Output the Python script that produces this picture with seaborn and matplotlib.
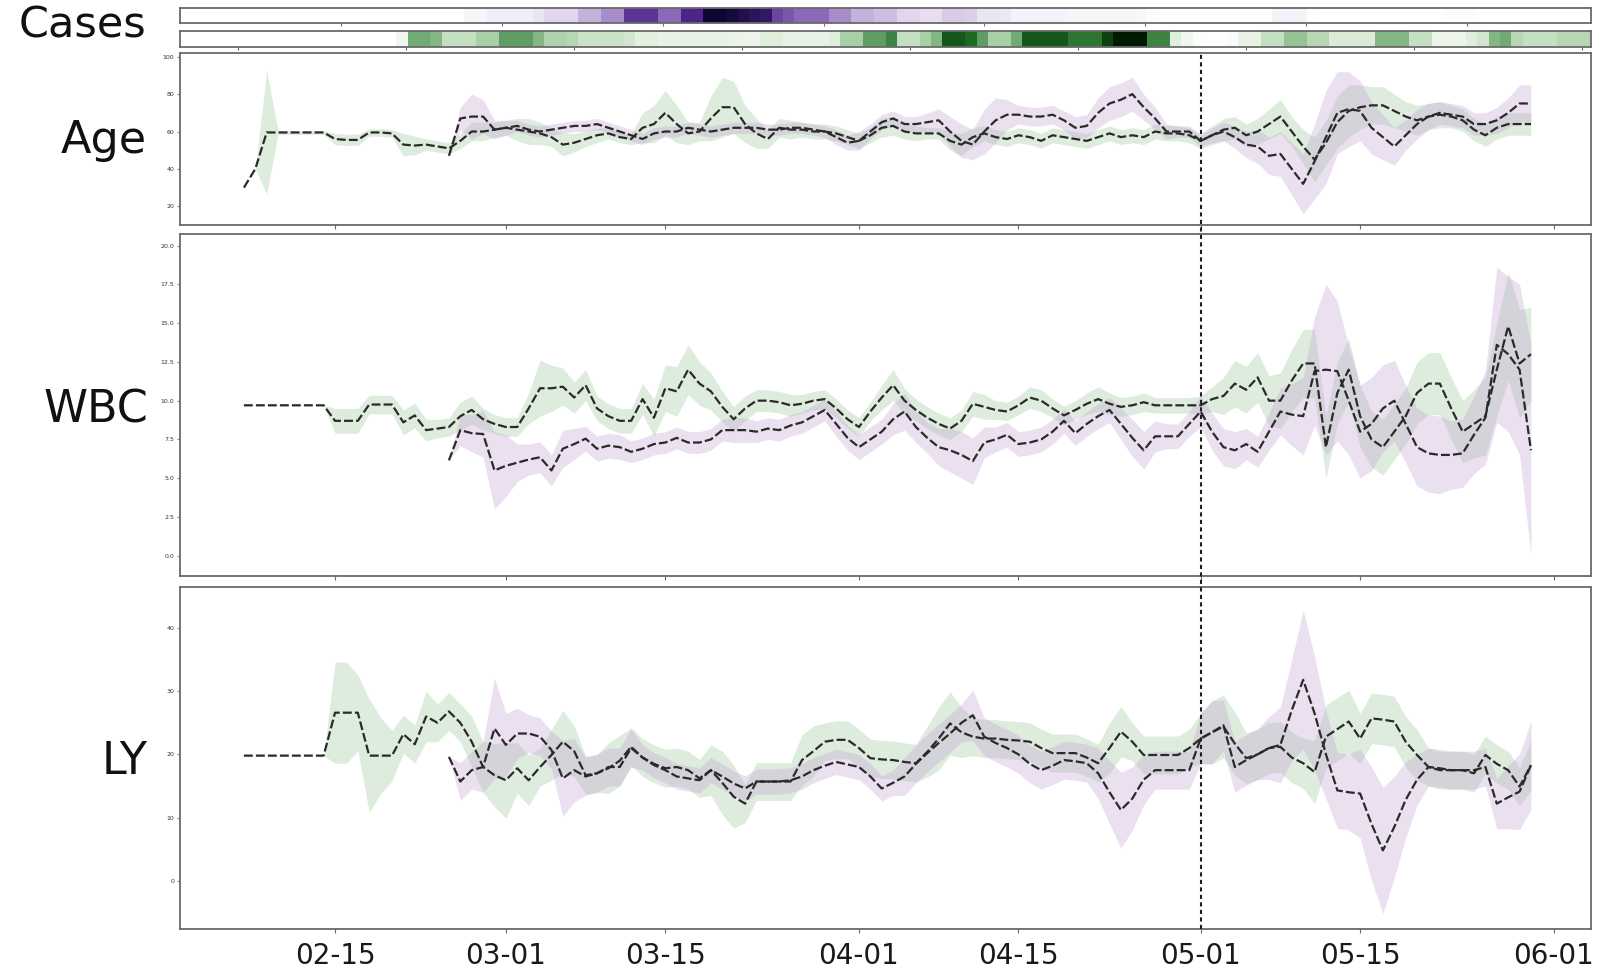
import numpy as np
import pandas as pd
import matplotlib
matplotlib.use("Agg")
import matplotlib.pyplot as plt
import matplotlib.dates as mdates
from matplotlib.colors import LinearSegmentedColormap
import seaborn as sns

sns.set_style("white")
plt.rcParams['font.family'] = ['DejaVu Sans']

# ---------------- data ----------------
green_start, green_end = "2020-02-07", "2020-05-30"
purple_start, purple_end = "2020-02-25", "2020-05-30"

cases_purple = [0]*25 + [
    .08, .08, .13, .13, .13, .13, .2, .25, .25, .25, .4, .4, .5, .5, .75, .75, .75, .6, .6, .8,
    .8, 1.0, 1.0, .97, .93, .9, .88, .7, .65, .6, .6, .6, .5, .5, .4, .4, .35, .35, .25, .25,
    .22, .22, .3, .3, .28, .2, .2, .18, .1, .1, .1, .1, .1, .08, .08, .08, .08, .08, .08, .07,
    .03] + [.005]*10 + [.1, .1, .1, .005] + [0]*11 + [.02, .02, .02] + [0]*10

cases_green = [0]*19 + [
    .1, .55, .55, .5, .3, .3, .3, .4, .4, .6, .6, .6, .5, .38, .38, .35, .28, .28, .28, .28,
    .25, .18, .18, .15, .15, .15, .15, .15, .15, .14, .12, .12, .2, .2, .15, .15, .15, .15, .2, .4,
    .4, .6, .6, .7, .3, .3, .4, .5, .85, .85, .8, .6, .4, .4, .55, .85, .85, .85, .85, .75,
    .75, .75, .9, 1.0, 1.0, 1.0, .7, .7, .2, .1, .03, .02, .02, .05, .15, .15, .3, .3, .45, .45,
    .35, .35, .22, .22, .22, .22, .5, .5, .5, .3, .3, .12, .12, .12, .2, .25, .5, .55, .35, .3,
    .3, .3, .35, .35, .35]

age_green = [
    30, 40, 59.5, 59.5, 59.5, 59.5, 59.5, 59.5, 56, 55.5, 55.5, 59.5, 59.5, 59, 53, 52.5, 53, 52, 51, 55, 60, 60, 61,
    62, 61, 60, 59, 57, 53, 54, 56, 58, 59, 57, 56, 62, 64, 70, 64, 59, 60, 67, 73, 73, 64, 59, 56, 62, 61, 61, 60, 60, 59, 57,
    55, 58, 62, 63, 60, 59, 59, 59, 55, 53, 57, 59, 57, 56, 58, 57, 55, 58, 57, 56, 55, 57, 59, 57, 58, 57, 60, 59, 59, 58,
    55, 58, 61, 62, 58, 60, 64, 68, 60, 52, 45, 54, 65, 71, 73, 74, 74, 71, 68, 66, 68, 69, 68, 66, 61, 58, 62, 64, 64, 64]
age_green_err = [
    0, 0, 33, 1, 1, 1, 1, 1, 3, 3, 3, 2, 2, 2, 6, 5, 3, 3, 3, 4, 5, 5, 4,
    4, 6, 7, 6, 5, 6, 5, 4, 4, 3, 3, 3, 8, 10, 12, 10, 6, 5, 12, 16, 14, 10, 8, 5, 5, 5, 4, 4, 4, 4, 4,
    4, 4, 5, 5, 4, 4, 3, 3, 5, 6, 5, 4, 4, 4, 4, 4, 4, 4, 4, 4, 4, 4, 4, 4, 4, 4, 4, 4, 4, 4,
    4, 5, 6, 6, 6, 7, 8, 9, 8, 9, 12, 12, 14, 14, 12, 10, 10, 9, 8, 8, 7, 7, 6, 6, 6, 6, 6, 6, 6, 6]
age_purple = [
    47, 67, 68, 68, 61,
    62, 63, 61, 60, 61, 62, 63, 63, 64, 62, 60, 58, 56, 59, 60, 60, 62, 61, 60, 61, 62, 62, 62, 61, 61, 62, 62, 61, 60, 57, 54,
    55, 60, 65, 67, 64, 64, 65, 66, 60, 55, 53, 60, 66, 69, 69, 68, 68, 69, 66, 62, 63, 70, 75, 77, 80, 73, 67, 60, 60, 60,
    55, 58, 60, 57, 53, 52, 47, 48, 40, 32, 44, 57, 70, 72, 71, 62, 57, 52, 58, 64, 68, 70, 69, 68, 64, 64, 66, 70, 75, 75]
age_purple_err = [
    0, 6, 12, 9, 5,
    4, 3, 3, 3, 3, 3, 3, 3, 3, 3, 3, 3, 3, 3, 3, 3, 3, 3, 3, 3, 3, 3, 3, 3, 3, 3, 3, 3, 3, 4, 4,
    5, 4, 4, 4, 4, 4, 5, 6, 8, 9, 8, 12, 12, 8, 5, 5, 5, 5, 5, 6, 6, 8, 9, 9, 9, 7, 6, 4, 3, 3,
    3, 4, 5, 6, 7, 9, 10, 12, 14, 16, 20, 25, 22, 20, 16, 14, 12, 10, 8, 8, 7, 6, 6, 6, 6, 6, 7, 8, 10, 10]

wbc_green = [
    9.7, 9.7, 9.7, 9.7, 9.7, 9.7, 9.7, 9.7, 8.7, 8.7, 8.7, 9.75, 9.75, 9.75, 8.6, 9.05, 8.1, 8.2, 8.3, 9.0, 9.4, 8.8, 8.5,
    8.3, 8.3, 9.5, 10.8, 10.8, 10.9, 10.2, 11.0, 9.5, 9.0, 8.7, 8.7, 10.1, 8.9, 10.8, 10.6, 12.0, 11.1, 10.6, 9.6,
    8.8, 9.5, 10.0, 10.0, 9.9, 9.7, 9.8, 10.0, 10.1, 9.5, 8.8,
    8.3, 9.3, 10.2, 11.0, 10.0, 9.4, 8.9, 8.5, 8.2, 8.7, 9.8, 9.6, 9.4, 9.3, 9.7, 10.2, 10.0, 9.5, 9.05, 9.4,
    9.8, 10.1, 9.8, 9.6, 9.7, 9.9, 9.7, 9.7, 9.7, 9.7,
    9.7, 10.1, 10.3, 11.1, 10.7, 11.5, 10.0, 10.0, 11.3, 12.4, 12.4, 7.0, 10.5, 12.0, 9.0, 7.5, 7.0, 8.0, 9.0, 10.5,
    11.1, 11.1, 9.5, 8.0, 8.5, 9.0, 12.0, 14.8, 12.4, 13.0]
wbc_green_err = [
    0, 0, 0, 0, 0, 0, 0, 0, 0.8, 0.8, 0.8, 0.6, 0.6, 0.6, 0.8, 0.8, 0.7, 0.6, 0.6, 0.9, 0.9, 0.7, 0.6,
    0.6, 0.6, 1.0, 1.8, 1.5, 1.2, 1.0, 1.0, 0.8, 0.8, 0.8, 0.8, 1.0, 1.2, 1.5, 1.6, 1.6, 1.4, 1.2, 1.0,
    0.8, 0.8, 0.7, 0.7, 0.7, 0.7, 0.6, 0.6, 0.6, 0.6, 0.6,
    0.6, 0.6, 0.8, 1.0, 0.8, 0.7, 0.7, 0.7, 0.7, 0.7, 0.8, 0.8, 0.6, 0.6, 0.6, 0.7, 0.7, 0.6, 0.6, 0.6,
    0.7, 0.8, 0.7, 0.6, 0.6, 0.6, 0.5, 0.5, 0.5, 0.5,
    0.6, 0.8, 1.2, 1.5, 1.5, 1.6, 1.6, 1.8, 2.0, 2.2, 2.2, 2.0, 2.0, 2.0, 2.0, 1.8, 1.8, 1.8, 1.8, 2.0,
    2.0, 2.0, 2.0, 2.0, 2.2, 2.5, 3.0, 3.5, 3.5, 3.0]
wbc_purple = [
    6.15, 8.1, 7.9, 7.85, 5.5,
    5.8, 6.0, 6.2, 6.35, 5.5, 6.9, 7.2, 7.55, 6.9, 7.1, 7.0, 6.7, 6.9, 7.2, 7.3, 7.6, 7.3, 7.3, 7.5, 8.1,
    8.1, 8.1, 8.0, 8.2, 8.1, 8.4, 8.6, 9.0, 9.4, 8.5, 7.6,
    7.0, 7.5, 8.0, 8.8, 9.3, 8.3, 7.6, 7.0, 6.8, 6.5, 6.1, 7.3, 7.5, 7.8, 7.2, 7.3, 7.5, 8.0, 8.7, 7.9,
    8.5, 9.0, 9.4, 8.5, 7.6, 6.8, 7.7, 7.7, 7.7, 8.5,
    9.3, 8.0, 7.0, 6.8, 7.2, 6.7, 8.0, 9.3, 9.1, 9.0, 11.9, 12.0, 11.9, 10.0, 8.0, 8.5, 9.5, 10.0, 8.5, 7.0,
    6.6, 6.5, 6.5, 6.6, 7.8, 8.9, 13.6, 13.0, 12.0, 6.8]
wbc_purple_err = [
    0, 1.0, 1.2, 1.5, 2.5,
    2.0, 1.2, 1.0, 1.0, 1.0, 1.2, 1.0, 0.8, 0.8, 0.8, 0.8, 0.7, 0.7, 0.7, 0.7, 0.7, 0.7, 0.7, 0.7, 0.7,
    0.8, 0.8, 0.7, 0.7, 0.7, 0.7, 0.7, 0.7, 0.7, 0.8, 0.8,
    0.8, 0.8, 0.8, 1.0, 1.2, 1.0, 1.0, 1.2, 1.4, 1.5, 1.5, 1.0, 0.8, 0.8, 0.8, 0.8, 0.8, 0.8, 0.8, 0.8,
    0.8, 0.8, 0.8, 1.0, 1.2, 1.2, 1.0, 0.8, 0.8, 0.8,
    1.0, 1.2, 1.2, 1.2, 1.0, 1.0, 1.2, 1.5, 2.0, 2.5, 3.5, 5.5, 4.5, 3.5, 3.0, 3.0, 2.8, 2.6, 2.5, 2.5,
    2.5, 2.5, 2.2, 2.2, 2.5, 3.0, 5.0, 5.0, 5.5, 6.8]

ly_green = [
    19.8, 19.8, 19.8, 19.8, 19.8, 19.8, 19.8, 19.8, 26.6, 26.6, 26.6, 19.8, 19.8, 19.8, 23.2, 21.6, 26.0, 25.0, 26.8,
    25.0, 22.0, 18.0, 16.7,
    15.9, 17.8, 15.9, 18.0, 19.9, 22.0, 20.5, 16.7, 17.0, 17.8, 19.0, 21.2, 19.5, 18.5, 17.8, 18.0, 17.5, 16.2, 17.5,
    15.5, 13.3, 12.2, 15.7, 15.7, 15.7, 15.7, 19.1, 20.5, 22.0, 22.3, 22.3,
    21.0, 19.4, 19.2, 19.1, 18.8, 18.6, 20.4, 22.5, 24.9, 23.5, 22.8, 22.5, 22.5, 22.3, 22.2, 22.0, 21.0, 20.2, 20.2,
    20.2, 19.5, 18.6, 21.0, 23.6, 22.0, 19.9, 19.9, 19.9, 19.9, 21.0,
    22.5, 23.5, 24.4, 21.7, 19.4, 20.0, 21.0, 21.2, 19.5, 18.6, 17.2, 22.8, 24.0, 25.2, 22.5, 25.7, 25.5, 25.2, 22.0,
    19.9, 18.0, 17.5, 17.5, 17.5, 17.0, 19.9, 18.5, 17.5, 14.9, 18.3]
ly_green_err = [
    0, 0, 0, 0, 0, 0, 0, 0, 8, 8, 6, 9, 6, 4, 3, 3, 4, 3, 3, 3, 4, 4, 5,
    6, 4, 4, 3, 4, 5, 4, 3, 3, 4, 4, 3, 3, 3, 3, 3, 3, 3, 4, 5, 5, 3, 3, 3, 3, 3, 4, 4, 3, 3, 3,
    3, 3, 3, 3, 3, 3, 4, 5, 5, 4, 3, 3, 3, 3, 3, 3, 3, 3, 3, 3, 3, 3, 4, 4, 3, 3, 3, 3, 3, 3,
    4, 5, 5, 5, 4, 4, 4, 4, 4, 4, 5, 5, 5, 5, 4, 4, 4, 4, 4, 4, 3, 3, 3, 3, 3, 3, 3, 3, 3, 4]
ly_purple = [
    19.6, 15.7, 17.5, 18.0, 24.1,
    21.5, 23.3, 23.3, 22.8, 20.7, 16.2, 17.5, 16.5, 17.0, 18.0, 18.0, 21.0, 19.5, 18.3, 17.5, 16.5, 16.2, 15.9, 17.5,
    16.5, 15.4, 14.6, 15.7, 15.7, 15.7, 15.9, 16.5, 17.5, 18.2, 18.8, 18.4,
    18.0, 16.5, 14.6, 15.5, 16.5, 18.5, 20.2, 21.8, 23.3, 25.0, 26.2, 22.8, 21.8, 21.0, 20.0, 18.5, 17.5, 18.2, 19.1,
    18.9, 18.6, 17.0, 14.0, 11.2, 13.0, 16.0, 17.5, 17.5, 17.5, 17.5,
    22.5, 23.5, 24.6, 18.0, 19.1, 20.0, 21.0, 21.5, 27.0, 31.8, 26.5, 20.0, 14.3, 14.0, 13.8, 9.0, 4.8, 8.5, 12.8,
    16.0, 18.0, 17.8, 17.5, 17.5, 17.5, 18.0, 12.2, 13.2, 14.1, 18.3]
ly_purple_err = [
    0, 3, 3, 4, 8,
    5, 4, 3, 3, 3, 6, 5, 3, 3, 3, 3, 3, 2, 2, 2, 2, 2, 2, 2, 2, 2, 2, 2, 2, 2, 2, 2, 2, 2, 2, 2,
    2, 2, 2, 2, 3, 3, 3, 3, 3, 3, 4, 3, 3, 3, 3, 3, 3, 3, 3, 3, 3, 4, 5, 6, 5, 4, 3, 3, 3, 3,
    4, 5, 4, 4, 4, 4, 5, 6, 8, 11, 9, 7, 6, 6, 7, 9, 10, 8, 6, 4, 3, 3, 3, 3, 3, 3, 4, 5, 6, 7]

panel_names = ["Age", "WBC", "LY"]
y_ticks = [[20, 40, 60, 80, 100], [0.0, 2.5, 5.0, 7.5, 10.0, 12.5, 15.0, 17.5, 20.0], [0, 10, 20, 30, 40]]
x_tick_dates = ["2020-02-15", "2020-03-01", "2020-03-15", "2020-04-01", "2020-04-15",
                "2020-05-01", "2020-05-15", "2020-06-01"]
marker_date = "2020-05-01"

# ---------------- figure ----------------
W, H = 1601, 973
fig = plt.figure(figsize=(W / 100, H / 100), dpi=100)

def fbox(top, bottom, left=180, right=1591):
    return [left / W, 1 - bottom / H, (right - left) / W, (bottom - top) / H]

ax_p = fig.add_axes(fbox(8, 23))
ax_g = fig.add_axes(fbox(31, 47))
ax_age = fig.add_axes(fbox(53, 225))
ax_wbc = fig.add_axes(fbox(234, 576))
ax_ly = fig.add_axes(fbox(587, 929))

spine_col = "#6a6a6a"

cmap_p = LinearSegmentedColormap.from_list(
    "pur", ["#ffffff", "#ebe4f2", "#c3b2dc", "#8a69b8", "#4d2388", "#0c0630"])
cmap_g = LinearSegmentedColormap.from_list(
    "grn", ["#ffffff", "#e0eedc", "#a9cfa6", "#5f9d63", "#1c6a22", "#001a02"])

for ax, vals, cmap, tpos in [
        (ax_p, cases_purple, cmap_p, [14.14 * k for k in range(1, 9)]),
        (ax_g, cases_green, cmap_g, [5.1 + 14.76 * k for k in range(9)])]:
    sns.heatmap(np.array([vals]), ax=ax, cmap=cmap, vmin=0, vmax=1, cbar=False,
                xticklabels=False, yticklabels=False)
    for s in ax.spines.values():
        s.set_visible(True)
        s.set_color(spine_col)
        s.set_linewidth(1.3)
    ax.set_xticks(tpos)
    ax.set_yticks([])
    ax.tick_params(axis="x", bottom=True, length=2.5, width=0.8, color=spine_col, labelbottom=False)

xlim = (pd.Timestamp("2020-02-01 09:20"), pd.Timestamp("2020-06-04 06:30"))
ylims = [(10, 102), (-1.31, 20.75), (-7.65, 46.5)]

series = [
    (age_green, age_green_err, age_purple, age_purple_err),
    (wbc_green, wbc_green_err, wbc_purple, wbc_purple_err),
    (ly_green, ly_green_err, ly_purple, ly_purple_err),
]

g_dates = pd.date_range(green_start, green_end, freq="D")
p_dates = pd.date_range(purple_start, purple_end, freq="D")

band_green = "#93c391"
band_purple = "#bc9ad0"
line_kw = dict(color="#2a2a2a", linewidth=1.6, linestyle=(0, (4, 1.4)), errorbar=None)

for ax, (gv, ge, pv, pe), yl, yt in zip([ax_age, ax_wbc, ax_ly], series, ylims, y_ticks):
    gv, ge, pv, pe = map(np.asarray, (gv, ge, pv, pe))
    ax.fill_between(g_dates, gv - ge, gv + ge, color=band_green, alpha=0.30, lw=0)
    ax.fill_between(p_dates, pv - pe, pv + pe, color=band_purple, alpha=0.30, lw=0)
    sns.lineplot(x=g_dates, y=gv, ax=ax, **line_kw)
    sns.lineplot(x=p_dates, y=pv, ax=ax, **line_kw)
    ax.set_xlim(*xlim)
    ax.set_ylim(*yl)
    ax.set_yticks(yt)
    if ax is ax_wbc:
        ax.set_yticklabels([f"{v:.1f}" for v in yt])
    ax.set_xticks(pd.to_datetime(x_tick_dates))
    ax.xaxis.set_major_formatter(mdates.DateFormatter("%m-%d"))
    ax.set_xlabel("")
    ax.set_ylabel("")
    for s in ax.spines.values():
        s.set_visible(True)
        s.set_color(spine_col)
        s.set_linewidth(1.3)
    ax.tick_params(axis="y", left=True, length=2, width=0.6, color=spine_col,
                   labelsize=4.5, pad=2, labelcolor="#333333")
    ax.tick_params(axis="x", bottom=True, length=3, width=0.8, color=spine_col,
                   labelbottom=(ax is ax_ly), labelsize=20, pad=6, labelcolor="#1a1a1a")

# vertical reference line spanning all three panels
top_frac = (929 - 53) / (929 - 587)
ax_ly.axvline(pd.Timestamp(marker_date), ymin=0, ymax=top_frac, clip_on=False,
              color="#1e1e1e", linewidth=1.5, linestyle=(0, (2, 1.6)), zorder=5)

# row labels
fig.text(146 / W, 1 - 25 / H, "Cases", ha="right", va="center", fontsize=31, color="#111111")
fig.text(147 / W, 1 - 140 / H, "Age", ha="right", va="center", fontsize=32, color="#111111")
fig.text(148 / W, 1 - 410 / H, "WBC", ha="right", va="center", fontsize=32, color="#111111")
fig.text(148 / W, 1 - 762 / H, "LY", ha="right", va="center", fontsize=32, color="#111111")

fig.savefig("out.png", dpi=100, facecolor="white")
